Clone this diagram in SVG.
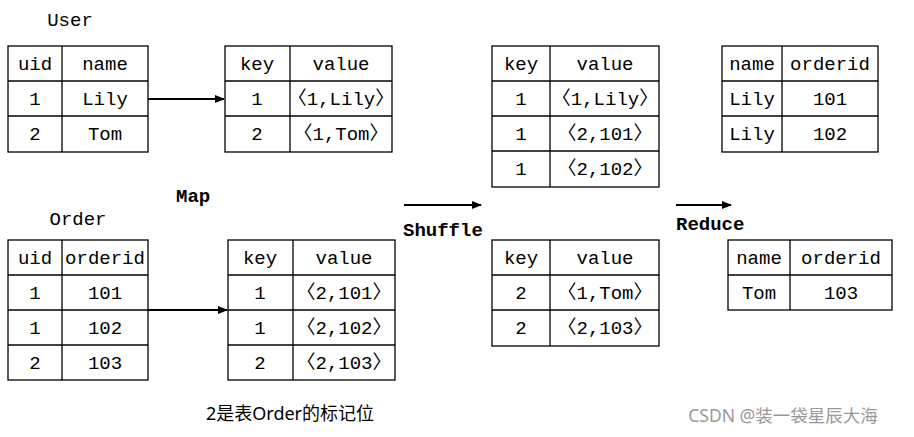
<svg xmlns="http://www.w3.org/2000/svg" width="914" height="437" viewBox="0 0 914 437">
<style>
rect{fill:#fff;stroke:#000;stroke-width:1.3}
line.g{stroke:#000;stroke-width:1.3}
text{font-family:"Liberation Mono","Noto Sans CJK SC",monospace;font-size:19px;fill:#000;text-anchor:middle}
text.b{font-weight:bold;text-anchor:start}
.c{stroke:#000;stroke-width:2;fill:none}
</style>
<defs><marker id="a" markerWidth="10" markerHeight="8" refX="9" refY="4" orient="auto" markerUnits="userSpaceOnUse"><path d="M0,0L10,4L0,8z" fill="#000"/></marker></defs>
<rect x="0" y="0" width="914" height="437" style="stroke:none"/>
<g id="user">
<text x="70" y="26" style="text-anchor:middle">User</text>
<rect x="8" y="46" width="140" height="106"/>
<line class="g" x1="8" y1="81" x2="148" y2="81"/><line class="g" x1="8" y1="116" x2="148" y2="116"/><line class="g" x1="62" y1="46" x2="62" y2="152"/>
<text x="35" y="70">uid</text><text x="105" y="70">name</text>
<text x="35" y="105">1</text><text x="105" y="105">Lily</text>
<text x="35" y="140">2</text><text x="105" y="140">Tom</text>
</g>
<g id="map1">
<rect x="225" y="46" width="167" height="106"/>
<line class="g" x1="225" y1="81" x2="392" y2="81"/><line class="g" x1="225" y1="116" x2="392" y2="116"/><line class="g" x1="290" y1="46" x2="290" y2="152"/>
<text x="257" y="70">key</text><text x="341" y="70">value</text>
<text x="257" y="105">1</text><text x="341" y="105">〈1,Lily〉</text>
<text x="257" y="140">2</text><text x="341" y="140">〈1,Tom〉</text>
</g>
<g id="order">
<text x="78" y="225">Order</text>
<rect x="8" y="240" width="140" height="140"/>
<line class="g" x1="8" y1="275" x2="148" y2="275"/><line class="g" x1="8" y1="310" x2="148" y2="310"/><line class="g" x1="8" y1="345" x2="148" y2="345"/><line class="g" x1="62" y1="240" x2="62" y2="380"/>
<text x="35" y="264">uid</text><text x="105" y="264">orderid</text>
<text x="35" y="299">1</text><text x="105" y="299">101</text>
<text x="35" y="334">1</text><text x="105" y="334">102</text>
<text x="35" y="369">2</text><text x="105" y="369">103</text>
</g>
<g id="map2">
<rect x="228" y="240" width="167" height="140"/>
<line class="g" x1="228" y1="275" x2="395" y2="275"/><line class="g" x1="228" y1="310" x2="395" y2="310"/><line class="g" x1="228" y1="345" x2="395" y2="345"/><line class="g" x1="293" y1="240" x2="293" y2="380"/>
<text x="260" y="264">key</text><text x="344" y="264">value</text>
<text x="260" y="299">1</text><text x="344" y="299">〈2,101〉</text>
<text x="260" y="334">1</text><text x="344" y="334">〈2,102〉</text>
<text x="260" y="369">2</text><text x="344" y="369">〈2,103〉</text>
</g>
<g id="shuf1">
<rect x="492" y="46" width="167" height="141"/>
<line class="g" x1="492" y1="81" x2="659" y2="81"/><line class="g" x1="492" y1="116" x2="659" y2="116"/><line class="g" x1="492" y1="151" x2="659" y2="151"/><line class="g" x1="550" y1="46" x2="550" y2="187"/>
<text x="521" y="70">key</text><text x="605" y="70">value</text>
<text x="521" y="105">1</text><text x="605" y="105">〈1,Lily〉</text>
<text x="521" y="140">1</text><text x="605" y="140">〈2,101〉</text>
<text x="521" y="175">1</text><text x="605" y="175">〈2,102〉</text>
</g>
<g id="shuf2">
<rect x="492" y="240" width="167" height="106"/>
<line class="g" x1="492" y1="275" x2="659" y2="275"/><line class="g" x1="492" y1="310" x2="659" y2="310"/><line class="g" x1="550" y1="240" x2="550" y2="346"/>
<text x="521" y="264">key</text><text x="605" y="264">value</text>
<text x="521" y="299">2</text><text x="605" y="299">〈1,Tom〉</text>
<text x="521" y="334">2</text><text x="605" y="334">〈2,103〉</text>
</g>
<g id="red1">
<rect x="722" y="46" width="156" height="106"/>
<line class="g" x1="722" y1="81" x2="878" y2="81"/><line class="g" x1="722" y1="116" x2="878" y2="116"/><line class="g" x1="782" y1="46" x2="782" y2="152"/>
<text x="752" y="70">name</text><text x="830" y="70">orderid</text>
<text x="752" y="105">Lily</text><text x="830" y="105">101</text>
<text x="752" y="140">Lily</text><text x="830" y="140">102</text>
</g>
<g id="red2">
<rect x="728" y="240" width="164" height="70"/>
<line class="g" x1="728" y1="275" x2="892" y2="275"/><line class="g" x1="790" y1="240" x2="790" y2="310"/>
<text x="759" y="264">name</text><text x="841" y="264">orderid</text>
<text x="759" y="299">Tom</text><text x="841" y="299">103</text>
</g>
<g id="connectors">
<line class="c" x1="148" y1="99" x2="224" y2="99" marker-end="url(#a)"/>
<line class="c" x1="148" y1="310" x2="227" y2="310" marker-end="url(#a)"/>
<line class="c" x1="404" y1="205" x2="481" y2="205" marker-end="url(#a)"/>
<line class="c" x1="676" y1="205" x2="731" y2="205" marker-end="url(#a)"/>
</g>
<g id="labels">
<text class="b" x="176" y="202">Map</text>
<text class="b" x="403" y="236">Shuffle</text>
<text class="b" x="676" y="230">Reduce</text>
<text x="290" y="420" style="font-family:'Noto Sans','Noto Sans CJK SC',sans-serif;font-size:18px">2是表Order的标记位</text>
<text x="783" y="422" style="font-family:'Noto Sans','Noto Sans CJK SC',sans-serif;font-size:17.5px;fill:#999">CSDN @装一袋星辰大海</text>
</g>
</svg>
